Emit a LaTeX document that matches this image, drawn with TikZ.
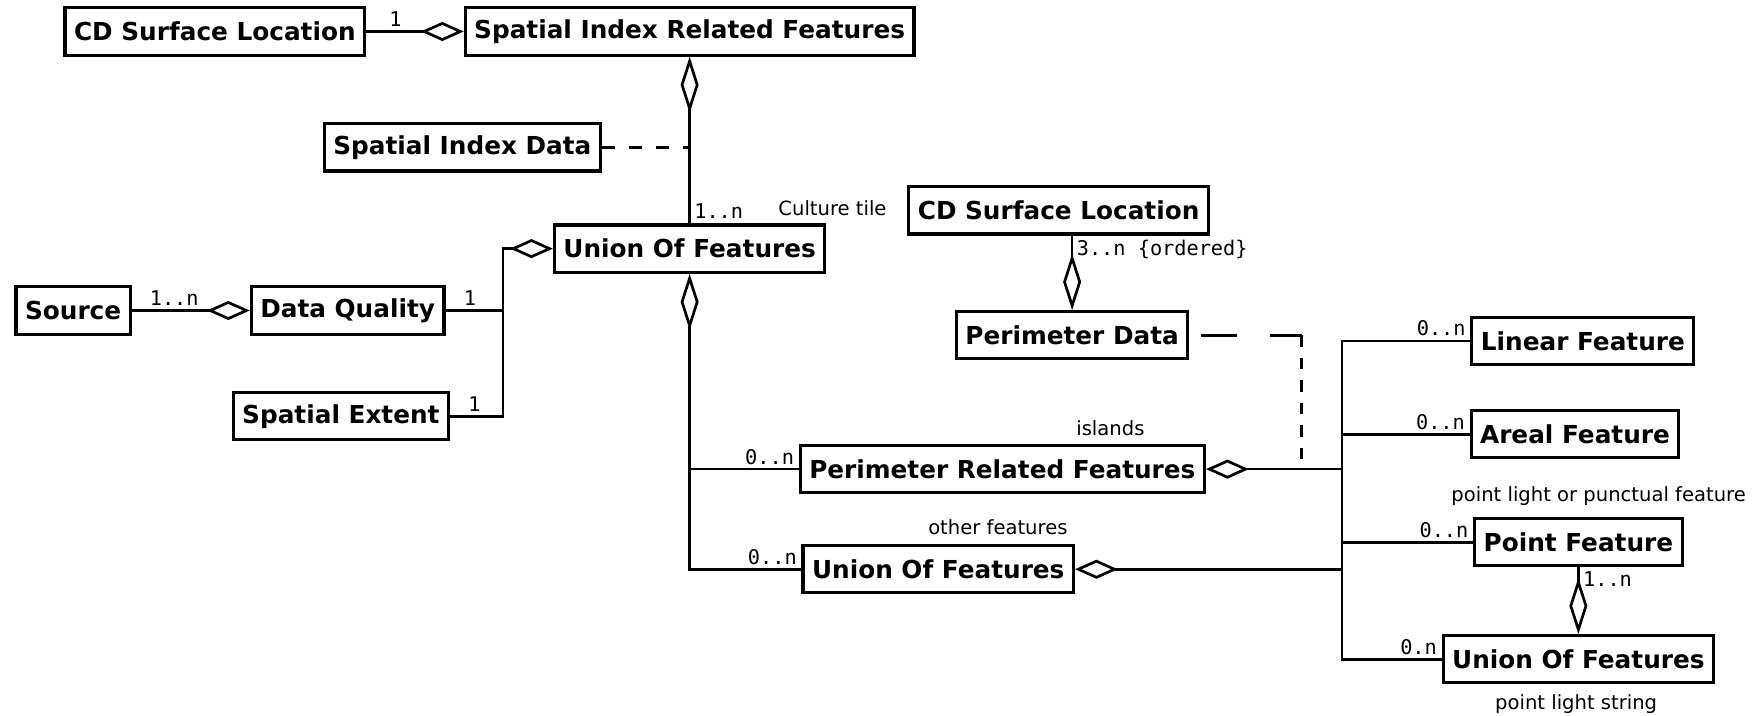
\documentclass[tikz,border=0pt]{standalone}
\usepackage{fontspec}
\setmainfont{DejaVu Sans}
\newfontfamily\monofont{DejaVu Sans Mono}
\usetikzlibrary{arrows.meta}

\tikzset{
  agg/.tip = {Diamond[open, length=19pt, width=8.5pt]},
  aggv/.tip = {Diamond[open, length=25pt, width=8pt]}
}

\begin{document}
\begin{tikzpicture}[x=0.5pt, y=-0.5pt, line width=1.2pt,
  main/.style = {draw, rectangle, line width=1.4pt, minimum height=21pt, inner xsep=4pt, font=\fontsize{11}{13}\selectfont\bfseries},
  lbl/.style = {inner sep=1.5pt, font=\fontsize{9}{10}\selectfont\monofont},
  note/.style = {inner sep=0pt, font=\fontsize{8.7}{10}\selectfont},
  dsh/.style = {dash pattern=on 6pt off 6pt},
  dshv/.style = {dash pattern=on 5pt off 5pt},
  dshl/.style = {dash pattern=on 16pt off 15pt, dash phase=26pt}]
	\useasboundingbox (0,0) rectangle (1568,636);
	\node[main] (1) at (191,28) {CD Surface Location};
	\node[main] (2) at (613,28) {Spatial Index Related Features};
	\node[main] (3) at (411,131) {Spatial Index Data};
	\node[main] (4) at (613,221) {Union Of Features};
	\node[main] (5) at (65,276) {Source};
	\node[main] (6) at (309,276) {Data Quality};
	\node[main] (7) at (303,370) {Spatial Extent};
	\node[main] (8) at (941,187) {CD Surface Location};
	\node[main] (9) at (953,298) {Perimeter Data};
	\node[main] (10) at (1407,303) {Linear Feature};
	\node[main] (11) at (1400,386) {Areal Feature};
	\node[main] (12) at (891,417) {Perimeter Related Features};
	\node[main] (13) at (1403,482) {Point Feature};
	\node[main] (14) at (834,506) {Union Of Features};
	\node[main] (15) at (1403,586) {Union Of Features};
	\node[note] (n1) at (740,185) {Culture tile};
	\node[note] (n2) at (987,381) {islands};
	\node[note] (n3) at (887,469) {other features};
	\node[note] (n4) at (1421,441) {point light or punctual feature};
	\node[note] (n5) at (1401,626) {point light string};
	\coordinate (j1) at (447,221);
	\coordinate (j2) at (1157,298);
	\coordinate (j3) at (1193,417);
	\draw[-agg] (1) -- node[lbl, pos=0.3, above] {1} (2);
	\draw[aggv-] (2) -- (4.north) node[lbl, above right] {1..n};
	\draw[dsh] (3) -- (3 -| 4);
	\draw[-agg] (5) -- node[lbl, pos=0.36, above] {1..n} (6);
	\draw[agg-] (4) -- (j1) |- (7.east) node[lbl, above right, xshift=6pt] {1};
	\draw (6.east) node[lbl, above right, xshift=6pt] {1} -| (j1);
	\draw[aggv-] (4) |- (14.west) node[lbl, above left] {0..n};
	\draw (4 |- 12) -- (12.west) node[lbl, above left] {0..n};
	\draw[-aggv] (8.south -| 9) node[lbl, below right] {3..n \{ordered\}} -- (9);
	\draw[dshl] (9) -- (j2);
	\draw[dshv] (j2) -- (j2 |- 12);
	\draw[agg-] (12) -- (j3);
	\draw[agg-] (14) -- (14 -| j3);
	\draw (10.west) node[lbl, above left] {0..n} -| (j3 |- 15) -- (15.west) node[lbl, above left] {0.n};
	\draw (11.west) node[lbl, above left] {0..n} -- (11.west -| j3);
	\draw (13.west) node[lbl, above left] {0..n} -- (13.west -| j3);
	\draw[-aggv] (13.south) node[lbl, below right] {1..n} -- (15.north);
\end{tikzpicture}
\end{document}
